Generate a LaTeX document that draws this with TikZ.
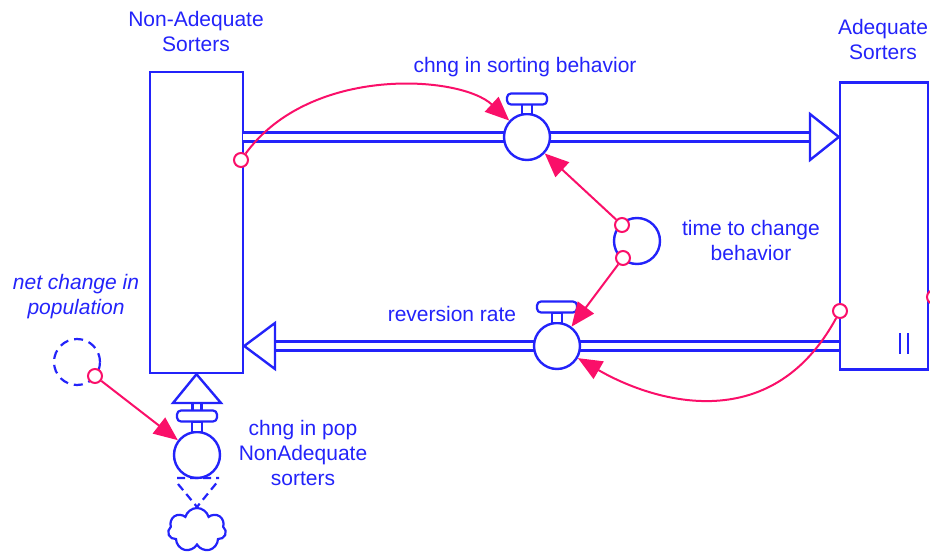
\documentclass[tikz,border=0pt]{standalone}
\usepackage{fontspec}
\setmainfont{Liberation Sans}
\usetikzlibrary{arrows.meta,shapes.symbols}
\definecolor{sdblue}{RGB}{35,35,250}
\definecolor{sdpink}{RGB}{250,15,105}

\begin{document}
\begin{tikzpicture}[%
    x=1pt, y=-1pt,
    stock/.style={
      rectangle,
      draw=sdblue,
      line width=2.4pt,
      fill=white,
      inner sep=0pt
    },
    valve/.style={
      circle,
      draw=sdblue,
      line width=2.4pt,
      fill=white,
      minimum size=46pt,
      inner sep=0pt
    },
    handle/.style={
      rectangle,
      draw=sdblue,
      line width=2.2pt,
      fill=white,
      rounded corners=4pt,
      minimum width=40pt,
      minimum height=11pt,
      inner sep=0pt
    },
    stem/.style={
      rectangle,
      draw=sdblue,
      line width=2.2pt,
      fill=white,
      minimum width=10pt,
      minimum height=10pt,
      inner sep=0pt
    },
    pipe/.style={
      draw=sdblue,
      line width=2.4pt,
      double=white,
      double distance=6.6pt
    },
    head/.style={
      draw=sdblue,
      line width=2.4pt,
      fill=white,
      line join=miter
    },
    lbl/.style={
      text=sdblue,
      align=center,
      font=\fontsize{21}{25}\selectfont
    },
    link/.style={
      draw=sdpink,
      line width=2pt,
      -{Triangle[length=24pt,width=20pt]}
    },
    linkend/.style={
      circle,
      draw=sdpink,
      line width=2pt,
      fill=white,
      minimum size=14pt,
      inner sep=0pt
    }
  ]
    \useasboundingbox (0,0) rectangle (930,554);

    % stocks
    \node[stock, minimum width=93pt, minimum height=301pt] (NA) at (196.5,222.5) {};
    \node[stock, minimum width=88pt, minimum height=287pt] (A) at (884,226) {};
    \draw[sdblue, line width=2.2pt] (900,333) -- (900,354) (908,333) -- (908,354);
    \node[lbl] (NAlbl) at (196,31) {Non-Adequate\\Sorters};
    \node[lbl] (Albl) at (883,39) {Adequate\\Sorters};

    % flows
    \draw[pipe] (243,137) -- (810,137);
    \draw[head] (810,114) -- (A.west |- 0,137) -- (810,160) -- cycle;
    \draw[pipe] (A.west |- 0,346) -- (275,346);
    \draw[head] (275,323) -- (NA.east |- 0,346) -- (275,369) -- cycle;
    \draw[pipe] (197,432) -- (197,403);
    \draw[head] (173,403) -- (NA.south) -- (221,403) -- cycle;

    % valves
    \node[valve] (v1) at (527,137) {};
    \node[stem] (s1) at (527,109) {};
    \node[handle] (h1) at (527,99) {};
    \node[lbl] (v1lbl) at (525,67) {chng in sorting behavior};

    \node[valve] (v2) at (557,346) {};
    \node[stem] (s2) at (557,318) {};
    \node[handle] (h2) at (557,307) {};
    \node[lbl] (v2lbl) at (452,314) {reversion rate};

    \node[valve] (v3) at (197,455) {};
    \node[stem] (s3) at (197,427) {};
    \node[handle] (h3) at (197,416) {};
    \node[lbl] (v3lbl) at (303,453) {chng in pop\\NonAdequate\\sorters};

    % source cloud
    \node[cloud, cloud puffs=7, aspect=1.3, draw=sdblue, line width=2.2pt,
      minimum width=58pt, minimum height=44pt] (src) at (197,530) {};
    \draw[sdblue, line width=2.2pt, dash pattern=on 8pt off 5pt]
      (177,478) -- (219,478) (178,484) -- (src.north) -- (219,480);

    % auxiliaries
    \node[circle, draw=sdblue, line width=2.4pt, minimum size=46pt] (tcb) at (637,241) {};
    \node[lbl] (tcblbl) at (751,240) {time to change\\behavior};
    \node[circle, draw=sdblue, line width=2.2pt, dash pattern=on 9pt off 6pt,
      minimum size=46pt] (ncp) at (77,362) {};
    \node[lbl, font=\fontsize{21}{25}\selectfont\itshape] (ncplbl) at (76,297) {net change in\\population};

    % links
    \node[linkend] (c1) at (241,160) {};
    \node[linkend] (c2) at (840,311) {};
    \node[linkend] (c3) at (934,297) {};
    \node[linkend] (t1) at (622,225) {};
    \node[linkend] (t2) at (623,258) {};
    \node[linkend] (n1) at (95,376) {};
    \draw[link] (c1) .. controls (310,65) and (460,75) .. (v1);
    \draw[link] (t1) -- (v1);
    \draw[link] (t2) -- (v2);
    \draw[link] (c2) .. controls (770,440) and (650,400) .. (v2);
    \draw[link] (n1) -- (v3);
  \end{tikzpicture}
\end{document}
